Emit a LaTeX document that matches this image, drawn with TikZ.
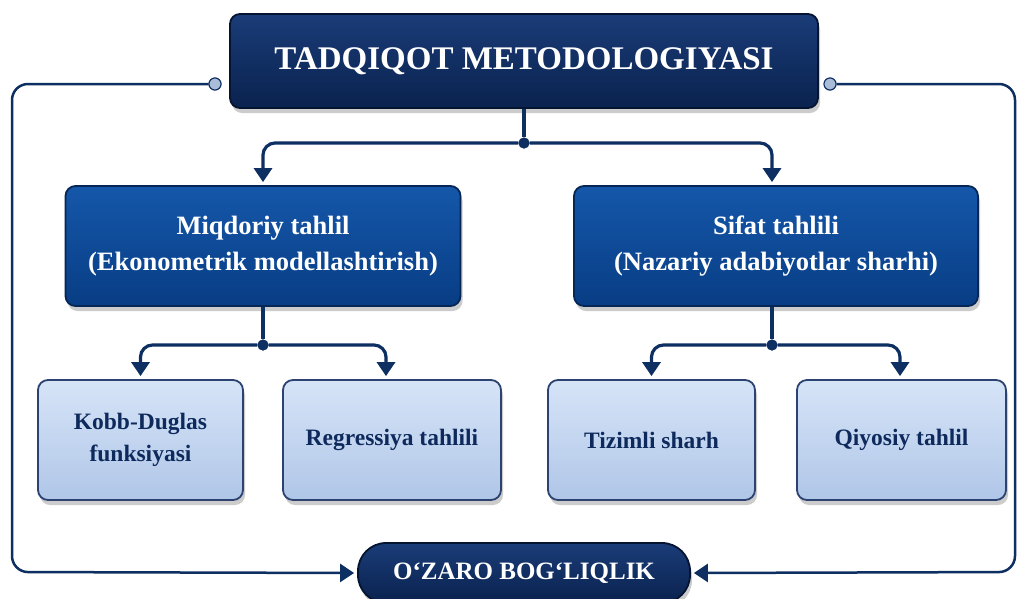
\documentclass[tikz,border=0pt]{standalone}
\usepackage{fontspec}
\setmainfont{Liberation Serif}
\usetikzlibrary{arrows.meta,shadows}
\definecolor{navytop}{HTML}{1A3C78}
\definecolor{navybot}{HTML}{0A224E}
\definecolor{navyedge}{HTML}{051430}
\definecolor{midtop}{HTML}{1557AA}
\definecolor{midbot}{HTML}{083D84}
\definecolor{midedge}{HTML}{062656}
\definecolor{lighttop}{HTML}{D6E4F7}
\definecolor{lightbot}{HTML}{B0C6E8}
\definecolor{lightedge}{HTML}{2C4270}
\definecolor{linec}{HTML}{0E2F62}
\definecolor{txtdark}{HTML}{0E2A5C}
\definecolor{knob}{HTML}{A9BCD8}
\tikzset{
  shad/.style={drop shadow={opacity=0.4,shadow xshift=2pt,shadow yshift=-5pt}},
  titlebox/.style={shad,rounded corners=10pt,draw=navyedge,line width=1.8pt,
    top color=navytop,bottom color=navybot,text=white,align=center,
    font=\bfseries\fontsize{33}{38}\selectfont},
  midbox/.style={shad,rounded corners=10pt,draw=midedge,line width=1.8pt,
    top color=midtop,bottom color=midbot,text=white,align=center,
    minimum height=120pt,font=\bfseries\fontsize{26.5}{36}\selectfont},
  leafbox/.style={shad,rounded corners=10pt,draw=lightedge,line width=1.8pt,
    top color=lighttop,bottom color=lightbot,text=txtdark,align=center,
    minimum height=120pt,font=\bfseries\fontsize{23.5}{32}\selectfont},
  pillbox/.style={shad,rounded corners=28pt,draw=navyedge,line width=1.8pt,
    top color=navytop,bottom color=navybot,text=white,align=center,
    minimum width=332pt,minimum height=60pt,font=\bfseries\fontsize{25}{28}\selectfont},
  conn/.style={draw=linec,line width=3.2pt,rounded corners=12pt},
  arr/.style={conn,-{Triangle[width=18pt,length=14pt]},shorten >=3pt},
  outarr/.style={arr,line width=2.5pt,rounded corners=16pt},
  jdot/.style={circle,fill=linec,inner sep=0pt,minimum size=11pt},
  knobc/.style={circle,fill=knob,draw=linec,line width=1pt,inner sep=0pt,minimum size=12pt},
}
\begin{document}
\begin{tikzpicture}[x=1pt,y=-1pt]
\useasboundingbox[fill=white] (0,0) rectangle (1019,598);
% nodes
\node[titlebox,minimum width=588pt,minimum height=94pt] (title) at (524,61) {TADQIQOT METODOLOGIYASI};
\node[midbox,minimum width=395pt] (m1) at (263,246) {Miqdoriy tahlil\\(Ekonometrik modellashtirish)};
\node[midbox,minimum width=404pt] (m2) at (776,246) {Sifat tahlili\\(Nazariy adabiyotlar sharhi)};
\node[leafbox,minimum width=205pt] (l1) at (140.5,440) {Kobb-Duglas\\funksiyasi};
\node[leafbox,minimum width=218pt] (l2) at (392,440) {Regressiya tahlili};
\node[leafbox,minimum width=207pt] (l3) at (651.5,440) {Tizimli sharh};
\node[leafbox,minimum width=209pt] (l4) at (901.5,440) {Qiyosiy tahlil};
\node[pillbox] (bot) at (524,573) {O‘ZARO BOG‘LIQLIK};
% junctions and knobs
\node[jdot] (j0) at (524,143) {};
\node[jdot] (j1) at (263,345) {};
\node[jdot] (j2) at (772,345) {};
\node[knobc] (kL) at (215,84) {};
\node[knobc] (kR) at (830,84) {};
\coordinate (cl1) at (12,84);
\coordinate (cl2) at (12,572);
\coordinate (cr1) at (1015,84);
\coordinate (cr2) at (1015,572);
% connectors
\draw[conn] (title.south) -- (j0);
\draw[arr] (j0) -| (m1.north);
\draw[arr] (j0) -| (m2.north -| 772,0);
\draw[conn] (m1.south) -- (j1);
\draw[arr] (j1) -| (l1.north);
\draw[arr] (j1) -| (l2.north -| 386,0);
\draw[conn] (m2.south -| j2) -- (j2);
\draw[arr] (j2) -| (l3.north);
\draw[arr] (j2) -| (l4.north -| 900,0);
\draw[outarr] (kL.west) -- (cl1) -- (cl2) -- (bot.west);
\draw[outarr] (kR.east) -- (cr1) -- (cr2) -- (bot.east);
\node[knobc] at (kL) {};
\node[knobc] at (kR) {};
\node[jdot] at (j0) {};
\node[jdot] at (j1) {};
\node[jdot] at (j2) {};
\end{tikzpicture}
\end{document}
